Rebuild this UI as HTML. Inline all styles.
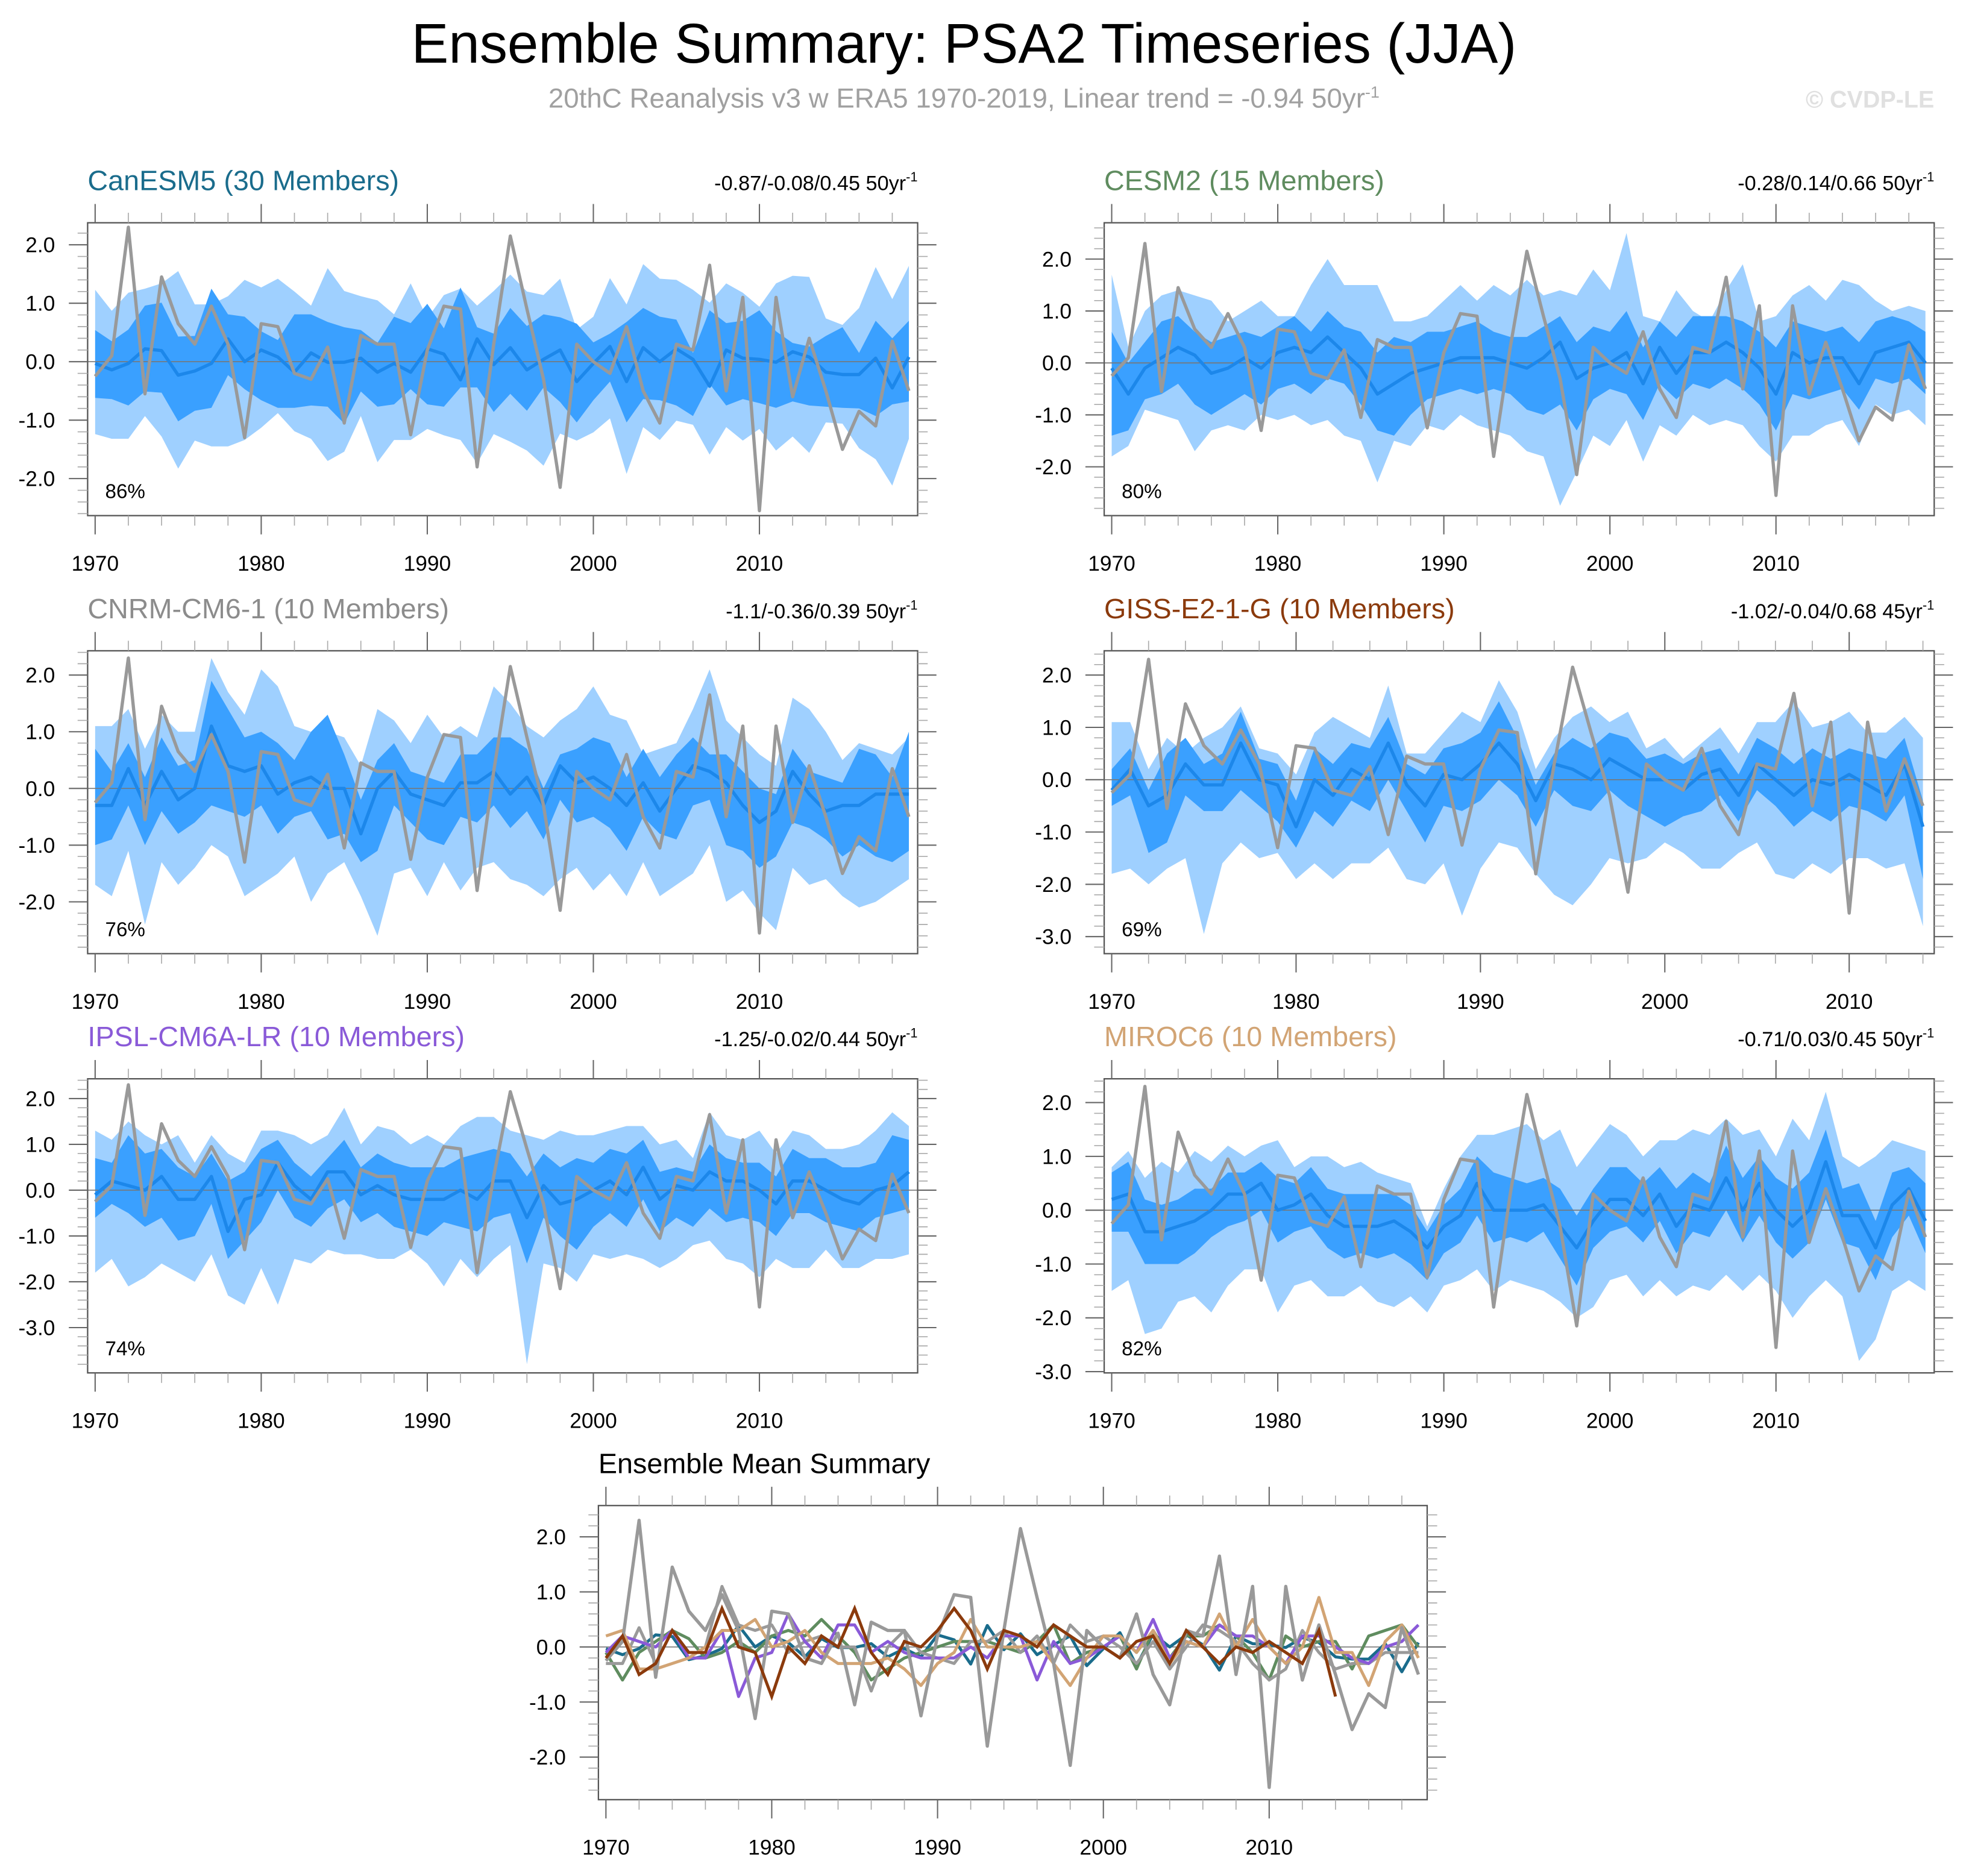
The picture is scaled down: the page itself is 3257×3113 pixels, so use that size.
<!DOCTYPE html>
<html><head><meta charset="utf-8">
<style>
html,body{margin:0;padding:0;background:#fff;}
svg{display:block;font-family:"Liberation Sans",Arial,sans-serif;}
</style></head>
<body>
<svg id="chart" width="3257" height="3113" viewBox="0 0 1568 1499" preserveAspectRatio="none" xmlns="http://www.w3.org/2000/svg">
<text x="770" y="50" font-size="44.5" text-anchor="middle" fill="#000">Ensemble Summary: PSA2 Timeseries (JJA)</text>
<text x="770" y="86" font-size="22" text-anchor="middle" fill="#a0a0a0">20thC Reanalysis v3 w ERA5 1970-2019, Linear trend = -0.94 50yr<tspan dy="-8" font-size="13">-1</tspan></text>
<text x="1545" y="86" font-size="19" font-weight="bold" text-anchor="end" fill="#e0e0e0">© CVDP-LE</text>
<g id="plots"></g>
</svg>
<script>
const years50 = Array.from({length:50},(_,i)=>1970+i);
const years45 = Array.from({length:45},(_,i)=>1970+i);
const obs = [-0.25,0.1,2.3,-0.55,1.45,0.65,0.3,0.95,0.3,-1.3,0.65,0.6,-0.2,-0.3,0.25,-1.05,0.45,0.3,0.3,-1.25,0.2,0.95,0.9,-1.8,0.3,2.15,0.9,-0.3,-2.15,0.3,0.0,-0.2,0.6,-0.5,-1.05,0.3,0.2,1.65,-0.5,1.1,-2.55,1.1,-0.6,0.4,-0.5,-1.5,-0.85,-1.1,0.35,-0.5];

// CanESM5
const canMean = [-0.03,-0.14,-0.03,0.22,0.19,-0.23,-0.16,-0.03,0.39,0,0.2,0.08,-0.18,0.15,-0.01,-0.01,0.06,-0.18,-0.03,-0.18,0.22,0.13,-0.31,0.39,-0.05,0.24,-0.14,0.04,0.2,-0.34,-0.03,0.26,-0.34,0.24,0,0.22,0.04,-0.42,0.2,0.06,0.04,-0.01,0.17,0.08,-0.18,-0.22,-0.22,0.06,-0.45,0.08];
const canLU = [1.23,0.87,1.18,1.25,1.34,1.55,0.98,0.98,1.12,1.4,1.27,1.42,1.2,0.96,1.6,1.21,1.12,1.05,0.81,1.34,0.74,1.14,1.25,0.96,1.21,1.49,1.2,1.14,1.42,0.55,0.77,1.43,0.98,1.67,1.42,1.4,1.23,1.01,1.34,1.18,0.94,1.34,1.47,1.45,0.74,0.63,0.92,1.62,1.07,1.64];
const canDU = [0.54,0.35,0.55,0.96,1.01,0.43,0.44,1.25,0.81,0.77,0.52,0.37,0.81,0.81,0.68,0.59,0.54,0.32,0.77,0.66,0.99,0.57,1.27,0.59,0.48,0.92,0.61,0.81,0.76,0.65,0.33,0.48,0.68,0.92,0.77,0.72,0.15,0.88,0.66,0.7,0.88,0.52,0.32,0.26,0.44,0.59,0.15,0.7,0.4,0.7];
const canDL = [-0.62,-0.64,-0.75,-0.51,-0.53,-1.02,-0.84,-0.79,-0.23,-0.47,-0.66,-0.79,-0.79,-0.75,-0.77,-1.06,-0.51,-0.77,-0.73,-0.47,-0.73,-0.77,-0.44,-0.44,-0.86,-0.55,-0.84,-0.44,-0.69,-1.04,-0.66,-0.34,-1.04,-0.64,-0.66,-0.75,-0.93,-0.38,-0.75,-0.64,-0.71,-0.79,-0.68,-0.75,-0.77,-0.79,-0.8,-0.93,-0.73,-0.68];
const canLL = [-1.24,-1.32,-1.32,-0.93,-1.28,-1.83,-1.35,-1.45,-1.45,-1.34,-1.13,-0.88,-1.19,-1.32,-1.7,-1.54,-0.93,-1.72,-1.34,-1.34,-1.15,-1.26,-1.34,-1.74,-1.24,-1.37,-1.52,-1.78,-1.23,-1.35,-1.21,-0.97,-1.92,-1.12,-1.34,-1.01,-1.08,-1.59,-1.12,-1.35,-1.15,-1.52,-1.28,-1.56,-1.04,-1.06,-1.48,-1.67,-2.12,-1.32];
// CESM2
const cesMean = [-0.1,-0.6,-0.1,0.1,0.3,0.15,-0.2,-0.1,0.1,-0.1,0.2,0.3,0.2,0.5,0.2,-0.1,-0.6,-0.4,-0.2,-0.1,0.0,0.1,0.1,0.1,0.0,-0.1,0.1,0.4,-0.3,-0.1,0.0,0.2,-0.4,0.3,-0.2,0.2,0.2,0.4,0.2,-0.1,-0.6,0.2,0.0,0.1,0.1,-0.4,0.2,0.3,0.4,0.0];
const cesLU = [1.7,0.3,1.0,1.3,1.4,1.3,1.2,0.8,1.0,1.2,0.9,0.9,1.5,2.0,1.5,1.5,1.5,0.8,0.8,0.9,1.2,1.5,1.2,1.5,1.3,1.6,1.3,1.4,1.3,1.8,1.4,2.5,0.9,0.8,1.4,1.0,0.8,1.4,1.9,0.8,0.9,1.3,1.5,1.2,1.6,1.5,1.2,1.0,1.1,1.0];
const cesDU = [0.6,0.0,0.4,0.8,0.9,0.6,0.4,0.5,0.6,0.5,0.7,0.9,0.6,1.0,0.7,0.6,0.2,0.5,0.4,0.6,0.6,0.7,0.8,0.6,0.5,0.5,0.7,0.9,0.4,0.7,0.6,1.0,0.3,0.8,0.5,0.9,0.9,0.9,0.8,0.6,0.3,0.8,0.7,0.6,0.7,0.4,0.8,0.9,0.8,0.6];
const cesDL = [-1.4,-1.3,-0.7,-0.6,-0.4,-0.8,-1.0,-0.8,-0.6,-0.8,-0.5,-0.4,-0.6,-0.3,-0.4,-0.8,-1.3,-1.4,-1.0,-0.7,-0.6,-0.5,-0.6,-0.5,-0.6,-0.9,-1.0,-0.8,-1.3,-0.7,-0.5,-0.6,-1.1,-0.4,-0.7,-0.4,-0.5,-0.3,-0.5,-0.8,-1.3,-0.6,-0.7,-0.6,-0.5,-0.9,-0.3,-0.4,-0.3,-0.6];
const cesLL = [-1.8,-1.6,-0.9,-1.0,-1.1,-1.7,-1.3,-1.2,-1.3,-1.0,-1.1,-1.0,-1.2,-1.1,-1.4,-1.5,-2.3,-1.5,-1.6,-1.2,-1.3,-1.0,-1.2,-1.3,-1.4,-1.7,-1.8,-2.75,-2.1,-1.4,-1.6,-1.1,-1.9,-1.2,-1.4,-1.0,-1.2,-1.1,-1.2,-1.6,-1.9,-1.4,-1.4,-1.2,-1.1,-1.6,-0.8,-1.0,-0.9,-1.2];
// CNRM
const cnrMean = [-0.3,-0.3,0.35,-0.3,0.3,-0.2,0.0,1.1,0.4,0.3,0.4,-0.1,0.1,0.2,0.0,0.0,-0.8,0.0,0.3,-0.1,-0.2,-0.3,0.1,0.1,0.3,-0.1,0.2,-0.3,0.4,0.1,0.2,0.0,-0.3,0.1,-0.4,0.0,0.4,0.3,0.1,-0.3,-0.6,-0.4,0.3,-0.1,-0.4,-0.3,-0.3,-0.1,-0.1,-0.1];
const cnrLU = [1.1,1.1,1.4,0.7,1.3,1.0,1.0,2.3,1.7,1.3,2.1,1.8,1.1,1.0,1.0,0.9,0.4,1.4,1.2,0.8,1.3,0.9,1.1,0.9,1.8,1.5,1.1,0.9,1.2,1.4,1.8,1.3,1.2,0.6,0.7,0.8,1.4,2.1,1.2,0.9,0.6,0.4,1.6,1.4,1.0,0.5,0.8,0.7,0.6,0.9];
const cnrDU = [0.7,0.3,0.8,0.2,0.9,0.4,0.5,1.9,1.4,0.9,1.0,0.8,0.5,1.0,1.3,0.6,-0.2,0.5,0.8,0.3,0.2,0.1,0.6,0.6,0.9,0.9,0.7,0.0,0.6,0.7,0.9,0.8,0.2,0.7,0.2,0.6,0.9,0.6,0.6,0.3,0.0,-0.1,0.7,0.3,0.2,0.1,0.7,0.6,0.2,1.0];
const cnrDL = [-1.0,-0.9,-0.3,-1.0,-0.4,-0.8,-0.6,-0.3,-0.4,-0.5,-0.3,-0.8,-0.5,-0.4,-0.9,-0.8,-1.3,-1.1,-0.3,-0.6,-0.9,-1.0,-0.5,-0.6,-0.3,-0.7,-0.4,-0.9,-0.2,-0.6,-0.5,-0.7,-1.1,-0.5,-0.8,-0.9,-0.3,-0.2,-1.0,-1.1,-1.4,-1.2,-0.6,-0.7,-0.9,-1.2,-1.0,-1.2,-1.3,-1.1];
const cnrLL = [-1.7,-1.9,-1.1,-2.4,-1.3,-1.7,-1.4,-1.0,-1.2,-1.9,-1.7,-1.5,-1.2,-2.0,-1.5,-1.3,-1.9,-2.6,-1.5,-1.4,-1.9,-1.3,-1.8,-1.4,-1.3,-1.6,-1.7,-1.9,-1.6,-1.4,-1.8,-1.5,-1.9,-1.3,-1.9,-1.7,-1.5,-1.0,-2.0,-1.8,-2.2,-2.5,-1.4,-1.7,-1.6,-1.9,-2.1,-2.0,-1.8,-1.6];
// GISS (1970-2014)
const gisMean = [-0.2,0.2,-0.5,-0.3,0.3,-0.1,-0.1,0.7,0.0,-0.1,-0.9,0.0,-0.3,0.2,0.0,0.7,-0.1,-0.5,0.1,0.0,0.3,0.7,0.3,-0.4,0.3,0.2,0.0,0.4,0.2,0.0,0.0,-0.2,0.1,0.2,-0.3,0.3,0.0,-0.3,0.0,-0.1,0.1,-0.1,-0.3,0.3,-0.9];
const gisLU = [1.1,1.1,0.2,0.8,0.5,0.8,1.0,1.4,0.6,0.5,0.1,0.9,1.2,1.0,0.8,1.8,0.5,0.5,0.9,1.3,1.1,1.9,1.3,0.2,0.8,1.2,1.4,1.1,1.3,0.6,0.8,0.4,0.7,1.0,0.5,1.1,1.1,1.5,1.0,1.1,1.3,0.9,0.9,1.2,0.8];
const gisDU = [0.2,0.6,-0.2,0.5,0.8,0.3,0.5,1.3,0.4,0.3,-0.4,0.6,0.3,0.7,0.6,1.2,0.3,0.1,0.6,0.7,0.9,1.5,0.8,-0.1,0.5,0.8,0.6,0.9,0.8,0.4,0.5,0.3,0.5,0.6,0.1,0.8,0.6,0.3,0.6,0.4,0.6,0.5,0.4,0.8,-0.4];
const gisDL = [-0.5,-0.3,-1.4,-1.2,-0.3,-0.6,-0.6,-0.2,-0.5,-0.8,-1.3,-0.6,-0.9,-0.4,-0.6,0.0,-0.6,-1.2,-0.5,-0.6,-0.4,0.0,-0.3,-0.9,-0.2,-0.5,-0.6,-0.2,-0.5,-0.7,-0.9,-0.7,-0.6,-0.3,-0.8,-0.2,-0.5,-0.9,-0.6,-0.8,-0.5,-0.6,-0.8,-0.3,-1.9];
const gisLL = [-1.8,-1.7,-2.0,-1.7,-1.5,-2.95,-1.6,-1.2,-1.5,-1.4,-1.9,-1.6,-1.9,-1.6,-1.6,-1.3,-1.9,-2.0,-1.6,-2.6,-1.7,-1.2,-1.3,-1.8,-2.2,-2.4,-2.0,-1.5,-1.6,-1.5,-1.2,-1.4,-1.7,-1.7,-1.4,-1.2,-1.8,-1.9,-1.6,-1.8,-1.5,-1.5,-1.7,-1.6,-2.8];
// IPSL
const ipsMean = [-0.1,0.2,0.1,0.0,0.3,-0.2,-0.2,0.3,-0.9,-0.2,-0.1,0.6,0.1,-0.2,0.4,0.4,-0.1,0.1,-0.1,-0.2,-0.2,-0.2,0.0,-0.2,0.2,0.2,-0.6,0.1,-0.3,-0.2,0.0,0.2,-0.1,0.5,-0.2,0.1,0.0,0.4,0.2,0.2,0.0,-0.3,0.2,0.2,0.0,-0.2,-0.3,0.0,0.1,0.4];
const ipsLU = [1.3,1.1,1.5,1.2,1.0,1.2,0.6,1.2,0.8,0.6,1.3,1.3,1.2,1.0,1.2,1.8,1.0,1.4,1.3,1.0,1.2,1.0,1.4,1.6,1.6,1.3,1.2,1.1,1.3,1.2,1.2,1.3,1.4,1.4,1.0,1.1,0.7,1.7,1.2,1.1,1.3,0.8,1.3,1.2,0.9,0.9,1.0,1.3,1.7,1.4];
const ipsDU = [0.7,0.6,1.2,0.8,0.9,0.5,0.3,0.8,0.2,0.4,0.9,1.1,0.6,0.3,0.7,1.1,0.5,0.8,0.6,0.5,0.5,0.5,0.7,0.8,0.9,0.8,0.3,0.8,0.5,0.7,0.6,0.9,0.8,1.1,0.4,0.5,0.4,1.0,0.7,0.6,0.6,0.3,0.9,0.7,0.7,0.5,0.5,0.6,1.2,1.1];
const ipsDL = [-0.6,-0.3,-0.5,-0.8,-0.6,-1.1,-1.0,-0.3,-1.5,-1.1,-0.7,0.0,-0.6,-0.8,-0.4,-0.2,-0.7,-0.5,-0.8,-0.9,-1.0,-0.7,-0.8,-0.9,-0.6,-0.5,-1.6,-0.6,-1.0,-1.3,-0.8,-0.5,-0.8,-0.2,-0.9,-0.6,-0.8,-0.4,-0.7,-0.6,-0.7,-1.0,-0.5,-0.5,-0.7,-0.8,-0.9,-0.6,-0.5,-0.4];
const ipsLL = [-1.8,-1.5,-2.1,-1.9,-1.6,-1.8,-2.0,-1.4,-2.3,-2.5,-1.7,-2.5,-1.5,-1.6,-1.3,-1.4,-1.4,-1.5,-1.5,-1.3,-1.6,-2.1,-1.5,-1.9,-1.5,-1.2,-3.8,-1.6,-1.7,-2.0,-1.4,-1.5,-1.4,-1.5,-1.7,-1.5,-1.2,-1.1,-1.5,-1.6,-1.9,-1.5,-1.7,-1.7,-1.3,-1.7,-1.7,-1.5,-1.5,-1.4];
// MIROC6
const mirMean = [0.2,0.3,-0.4,-0.4,-0.3,-0.2,0.0,0.3,0.3,0.5,0.0,0.1,0.3,-0.1,-0.3,-0.3,-0.3,-0.2,-0.4,-0.7,-0.3,-0.1,0.5,0.0,0.0,0.0,0.1,-0.3,-0.7,-0.2,0.2,0.2,-0.1,0.3,-0.3,0.1,0.0,0.6,0.0,0.5,0.0,-0.3,0.0,0.9,-0.1,-0.1,-0.7,0.1,0.4,-0.2];
const mirLU = [0.8,1.1,0.6,0.9,0.7,1.1,0.9,1.2,1.0,1.2,1.3,0.8,1.0,1.0,0.8,0.9,0.7,0.6,0.5,-0.3,0.4,1.0,1.4,1.4,1.5,1.6,1.3,1.5,0.8,1.2,1.6,1.4,1.0,1.3,1.3,1.5,1.4,1.7,1.4,1.5,1.0,1.7,1.3,2.2,1.0,0.8,1.0,1.3,1.2,1.1];
const mirDU = [0.7,0.9,0.2,0.1,0.2,0.4,0.4,0.7,0.7,0.9,0.6,0.5,0.8,0.4,0.3,0.3,0.3,0.3,0.1,-0.4,0.1,0.4,1.0,0.7,0.6,0.5,0.6,0.4,-0.1,0.4,0.8,0.8,0.5,0.8,0.4,0.7,0.5,1.2,0.6,1.0,0.6,0.4,0.7,1.5,0.4,0.5,-0.2,0.7,0.8,0.5];
const mirDL = [-0.4,-0.4,-1.0,-1.0,-1.0,-0.8,-0.5,-0.3,-0.2,0.0,-0.6,-0.4,-0.3,-0.7,-0.9,-0.8,-0.9,-0.8,-1.0,-1.3,-0.8,-0.6,-0.1,-0.6,-0.5,-0.6,-0.4,-0.9,-1.4,-0.7,-0.4,-0.3,-0.6,-0.2,-0.8,-0.4,-0.5,0.0,-0.6,-0.1,-0.6,-0.9,-0.6,0.2,-0.6,-0.7,-1.3,-0.5,-0.1,-0.8];
const mirLL = [-1.5,-1.3,-2.3,-2.2,-1.7,-1.6,-1.9,-1.4,-1.1,-1.1,-1.9,-1.4,-1.3,-1.6,-1.6,-1.4,-1.7,-1.8,-1.6,-1.9,-1.4,-1.3,-1.1,-1.5,-1.3,-1.4,-1.5,-1.7,-2.0,-1.8,-1.3,-1.2,-1.6,-1.3,-1.6,-1.4,-1.5,-1.2,-1.5,-1.2,-1.5,-2.0,-1.6,-1.3,-1.6,-2.8,-2.4,-1.5,-1.3,-1.5];

const xTickYears = [1970,1980,1990,2000,2010];
const NS='http://www.w3.org/2000/svg';
const root=document.getElementById('plots');
function mk(tag,attrs,parent){const e=document.createElementNS(NS,tag);for(const k in attrs)e.setAttribute(k,attrs[k]);(parent||root).appendChild(e);return e;}

function panel(cfg){
  const g=mk('g',{});
  
  
  const {bx0,bx1,by0,by1,x0,x1,yr0,yr1,zeroY,k}=cfg;
  const X=yr=>x0+(yr-yr0)*(x1-x0)/(yr1-yr0);
  const Y=v=>zeroY-v*k;
  const vTop=(zeroY-by0)/k, vBot=(zeroY-by1)/k;
  const clip='clip-'+cfg.name;
  const cp=mk('clipPath',{id:clip},g);mk('rect',{x:bx0,y:by0,width:bx1-bx0,height:by1-by0},cp);
  const pg=mk('g',{'clip-path':'url(#'+clip+')'},g);
  const yrs=cfg.years;
  function band(up,lo,fill,nm){
    let d='M'+yrs.map((y,i)=>X(y).toFixed(2)+','+Y(up[i]).toFixed(2)).join('L');
    d+='L'+yrs.slice().reverse().map((y,j)=>{const i=yrs.length-1-j;return X(y).toFixed(2)+','+Y(lo[i]).toFixed(2);}).join('L')+'Z';
    const p=mk('path',{d:d,fill:fill,stroke:'none'},pg);
    
    
  }
  function line(ys,vals,col,w,nm,par){
    const d='M'+ys.map((y,i)=>X(y).toFixed(2)+','+Y(vals[i]).toFixed(2)).join('L');
    const p=mk('path',{d:d,fill:'none',stroke:col,'stroke-width':w,'stroke-linejoin':'round'},par||pg);
    
    
  }
  if(cfg.lu){band(cfg.lu,cfg.ll,'#9fd0ff','min-max-band');band(cfg.du,cfg.dl,'#3aa0ff','percentile-band');}
  mk('line',{x1:bx0,x2:bx1,y1:Y(0),y2:Y(0),stroke:'#777','stroke-width':0.8},pg);
  if(cfg.mean){line(yrs,cfg.mean,'#1c87ea',2.6,'ensemble-mean-line');}
  if(cfg.extra){cfg.extra.forEach(s=>line(years50,s.v,s.c,2.4,s.n+'-mean-line'));}
  line(years50.filter(y=>y<=yr1+0.5),obs,'#999999',2.6,'observed-line');
  mk('rect',{x:bx0,y:by0,width:bx1-bx0,height:by1-by0,fill:'none',stroke:'#555','stroke-width':1.1},g);
  for(let yr=1970;yr<=yr1;yr+=2){
    const maj=(yr%10===0), L=maj?15:8, x=X(yr);
    mk('line',{x1:x,x2:x,y1:by1,y2:by1+L,stroke:maj?'#666':'#aaa','stroke-width':maj?1:0.8},g);
    mk('line',{x1:x,x2:x,y1:by0,y2:by0-L,stroke:maj?'#666':'#aaa','stroke-width':maj?1:0.8},g);
  }
  xTickYears.forEach(yr=>{if(yr<=yr1){const t=mk('text',{x:X(yr),y:by1+44,'font-size':17,'text-anchor':'middle',fill:'#000'},g);t.textContent=yr;
    
    }});
  for(let m=Math.ceil(vBot*5);m<=Math.floor(vTop*5);m++){
    const v=m/5, maj=(m%5===0), L=maj?15:8, y=Y(v);
    mk('line',{x1:bx0,x2:bx0-L,y1:y,y2:y,stroke:maj?'#666':'#aaa','stroke-width':maj?1:0.8},g);
    mk('line',{x1:bx1,x2:bx1+L,y1:y,y2:y,stroke:maj?'#666':'#aaa','stroke-width':maj?1:0.8},g);
    if(maj){const t=mk('text',{x:bx0-26,y:y+6,'font-size':17,'text-anchor':'end',fill:'#000'},g);t.textContent=(v).toFixed(1);
      
      }
  }
  const tt=mk('text',{x:bx0,y:by0-26,'font-size':cfg.titleSize||22.5,fill:cfg.color},g);tt.textContent=cfg.title;
  
  
  if(cfg.trend){const r=mk('text',{x:bx1,y:by0-26,'font-size':16.5,'text-anchor':'end',fill:'#000'},g);r.textContent=cfg.trend+' '+cfg.unit;
    const s=mk('tspan',{dy:-7,'font-size':10.5},r);s.textContent='-1';
    
    }
  if(cfg.pct){const p=mk('text',{x:bx0+14,y:by1-14,'font-size':16,fill:'#000'},g);p.textContent=cfg.pct;
    
    }
}
panel({name:'canesm5',title:'CanESM5 (30 Members)',color:'#1a6c8c',trend:'-0.87/-0.08/0.45',unit:'50yr',pct:'86%',bx0:70,bx1:733,by0:178,by1:412,x0:76,x1:726,yr0:1970,yr1:2019,zeroY:289,k:46.7,years:years50,mean:canMean,lu:canLU,du:canDU,dl:canDL,ll:canLL});
panel({name:'cesm2',title:'CESM2 (15 Members)',color:'#5f8c5f',trend:'-0.28/0.14/0.66',unit:'50yr',pct:'80%',bx0:882,bx1:1545,by0:178,by1:412,x0:888,x1:1538,yr0:1970,yr1:2019,zeroY:290,k:41.5,years:years50,mean:cesMean,lu:cesLU,du:cesDU,dl:cesDL,ll:cesLL});
panel({name:'cnrm-cm6-1',title:'CNRM-CM6-1 (10 Members)',color:'#8c8c8c',trend:'-1.1/-0.36/0.39',unit:'50yr',pct:'76%',bx0:70,bx1:733,by0:520,by1:762,x0:76,x1:726,yr0:1970,yr1:2019,zeroY:630,k:45.3,years:years50,mean:cnrMean,lu:cnrLU,du:cnrDU,dl:cnrDL,ll:cnrLL});
panel({name:'giss-e2-1-g',title:'GISS-E2-1-G (10 Members)',color:'#8b3a0c',trend:'-1.02/-0.04/0.68',unit:'45yr',pct:'69%',bx0:882,bx1:1545,by0:520,by1:762,x0:888,x1:1536,yr0:1970,yr1:2014,zeroY:623,k:41.8,years:years45,mean:gisMean,lu:gisLU,du:gisDU,dl:gisDL,ll:gisLL});
panel({name:'ipsl-cm6a-lr',title:'IPSL-CM6A-LR (10 Members)',color:'#8a5ad8',trend:'-1.25/-0.02/0.44',unit:'50yr',pct:'74%',bx0:70,bx1:733,by0:862,by1:1097,x0:76,x1:726,yr0:1970,yr1:2019,zeroY:951,k:36.6,years:years50,mean:ipsMean,lu:ipsLU,du:ipsDU,dl:ipsDL,ll:ipsLL});
panel({name:'miroc6',title:'MIROC6 (10 Members)',color:'#d2a474',trend:'-0.71/0.03/0.45',unit:'50yr',pct:'82%',bx0:882,bx1:1545,by0:862,by1:1097,x0:888,x1:1538,yr0:1970,yr1:2019,zeroY:967,k:43,years:years50,mean:mirMean,lu:mirLU,du:mirDU,dl:mirDL,ll:mirLL});
panel({name:'ensemble-mean-summary',title:'Ensemble Mean Summary',color:'#000',titleSize:22.5,bx0:478,bx1:1140,by0:1203,by1:1438,x0:484,x1:1133,yr0:1970,yr1:2019,zeroY:1316,k:44,years:years50,
  extra:[{v:canMean,c:'#1a6c8c',n:'canesm5'},{v:cesMean,c:'#5f8c5f',n:'cesm2'},{v:cnrMean,c:'#9a9a9a',n:'cnrm'},{v:ipsMean,c:'#8a5ad8',n:'ipsl'},{v:mirMean,c:'#d2a474',n:'miroc6'}]});
(function(){const X=yr=>484+(yr-1970)*(1133-484)/49,Y=v=>1316-v*44;
 const d='M'+years45.map((y,i)=>X(y).toFixed(2)+','+Y(gisMean[i]).toFixed(2)).join('L');
 const p=mk('path',{d:d,fill:'none',stroke:'#8b3a0c','stroke-width':2.4});
 
 })();
</script>
</body></html>
